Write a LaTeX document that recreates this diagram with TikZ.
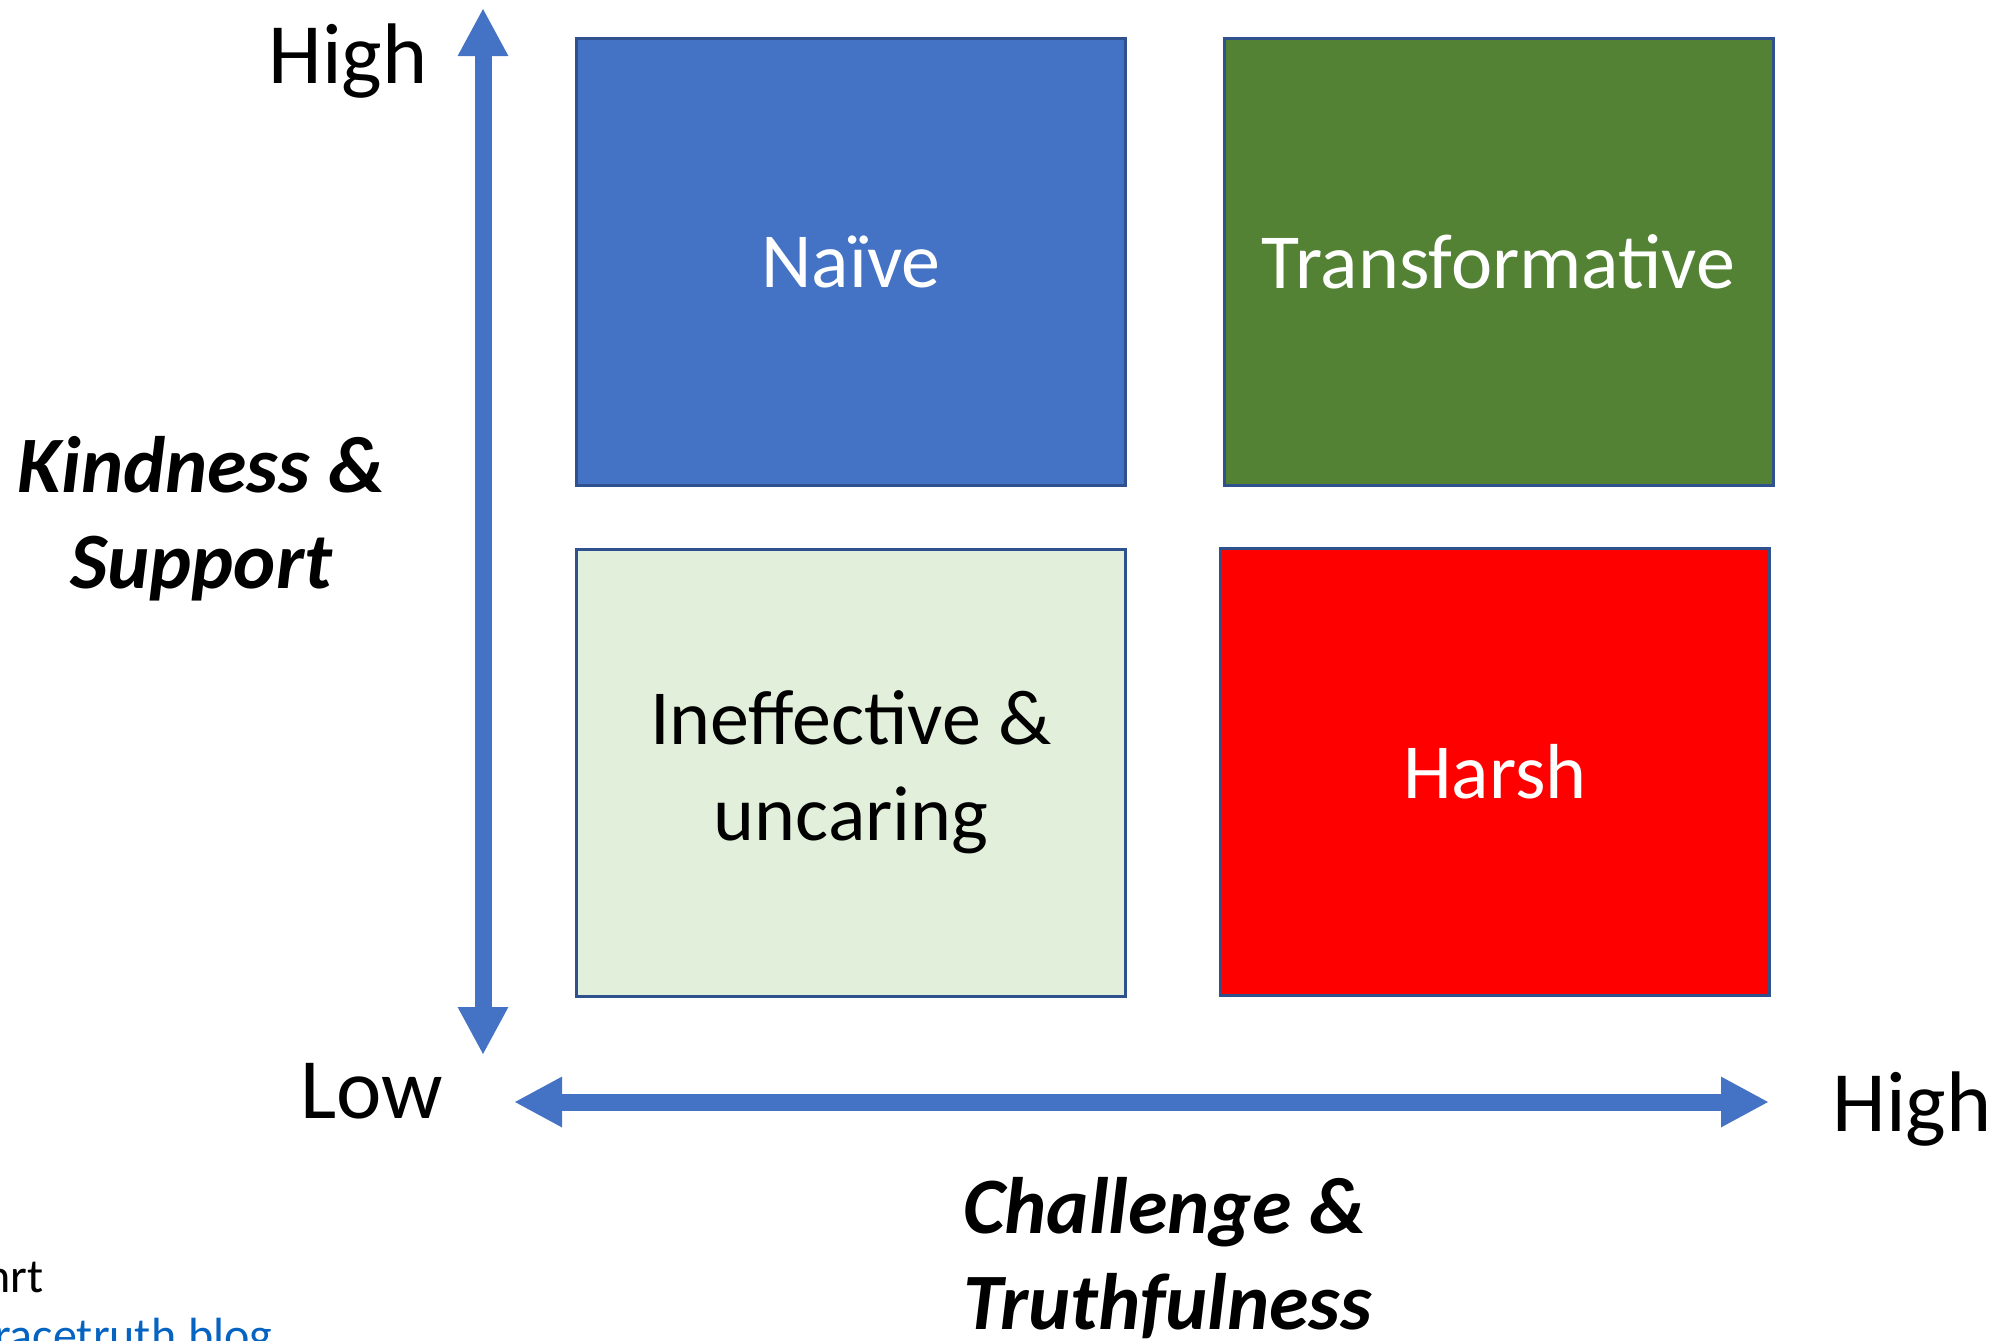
\documentclass[tikz,border=0pt]{standalone}
\usepackage{fontspec}
\setmainfont{Carlito}
\usetikzlibrary{arrows.meta}

\definecolor{axisblue}{HTML}{4472C4}
\definecolor{edgeblue}{HTML}{2F528F}
\definecolor{darkgreen}{HTML}{548235}
\definecolor{palegreen}{HTML}{E2EFDA}
\definecolor{linkblue}{HTML}{0563C1}

\begin{document}
\begin{tikzpicture}[x=1pt, y=-1pt]
   \tikzstyle{quad}=[draw=edgeblue, line width=3pt, minimum width=549pt, minimum height=447pt, inner sep=0pt, align=center, font=\fontsize{78}{96}\selectfont]
   \tikzstyle{axis}=[draw=axisblue, line width=17pt, {Triangle[width=47pt,length=48pt]}-{Triangle[width=47pt,length=48pt]}]
   \tikzstyle{level}=[inner sep=0pt, font=\fontsize{86}{100}\selectfont]
   \tikzstyle{title}=[inner sep=0pt, font=\fontsize{80}{96}\selectfont\bfseries\itshape]
   \tikzstyle{note}=[inner sep=0pt, font=\fontsize{48}{58}\selectfont]

\useasboundingbox (0,0) rectangle (2003,1341);

% the four quadrants
\node[quad, fill=axisblue, text=white] (naive) at (851,262) {Naïve};
\node[quad, fill=darkgreen, text=white] (transf) at (1498.5,262) {Transformative};
\node[quad, fill=palegreen] (ineff) at (851,772.5) {Ineffective \&\\uncaring};
\node[quad, fill=red, text=white] (harsh) at (1495,772) {Harsh};

% axes
\coordinate (ytop) at (483,8);
\coordinate (ybot) at (483,1055);
\coordinate (xleft) at (514,1102);
\coordinate (xright) at (1769,1102);
\draw[axis] (ybot) -- (ytop);
\draw[axis] (xleft) -- (xright);

\node[level, anchor=base] (yhigh) at (348,83) {High};
\node[level, anchor=base] (ylow) at (372,1118) {Low};
\node[level, anchor=base] (xhigh) at (1912,1131) {High};

\node[title, align=center, anchor=north] (kind) at (201,436) {Kindness \&\\Support};
\node[title, align=left, anchor=north west] (chall) at (963,1177) {Challenge \&\\Truthfulness};

% cut-off source lines
\node[note, anchor=base east] (src) at (44,1292) {nrt};
\node[note, anchor=base west, text=linkblue] (link) at (-6,1351) {racetruth.blog};

\end{tikzpicture}
\end{document}
